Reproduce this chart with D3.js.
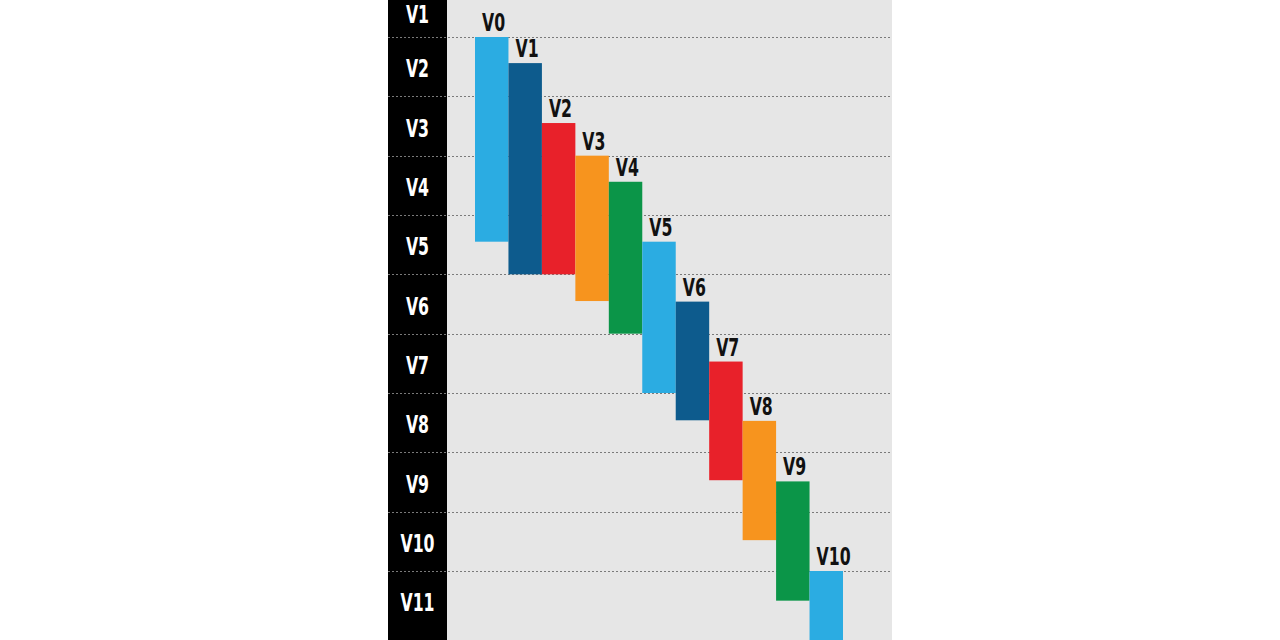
<!DOCTYPE html>
<html>
<head>
<meta charset="utf-8">
<script src="https://cdn.jsdelivr.net/npm/d3@7"></script>
<style>
html,body{margin:0;padding:0;background:#fff;}
svg{display:block;}
</style>
</head>
<body>
<svg id="chart" width="1280" height="640"></svg>
<script>
const versions = ["V0","V1","V2","V3","V4","V5","V6","V7","V8","V9","V10"];
const starts   = [1.0, 1.44, 2.45, 3.0, 3.44, 4.45, 5.46, 6.47, 7.47, 8.49, 10.0];
const ends     = [4.45, 5.0, 5.0, 5.45, 6.0, 7.0, 7.46, 8.47, 9.48, 10.5, 11.6];
const rowLabels = ["V1","V2","V3","V4","V5","V6","V7","V8","V9","V10","V11"];
const gridTicks = [1,2,3,4,5,6,7,8,9,10];
const palette = ["#2BACE2","#0D5B8D","#E8212A","#F7941E","#0B9548"];

const svg = d3.select("#chart");
const W = 1280, H = 640;
const bandX0 = 388, bandX1 = 447, plotX1 = 892;

const x = d3.scaleBand().domain(versions).range([475, 843]).padding(0);
const y = d3.scaleLinear().domain([1, 10]).range([37, 571]);
const color = d3.scaleOrdinal().domain(versions).range(palette);

// backgrounds
svg.append("rect").attr("x", bandX1).attr("y", 0).attr("width", plotX1 - bandX1).attr("height", H).attr("fill", "#E6E6E6");
svg.append("rect").attr("x", bandX0).attr("y", 0).attr("width", bandX1 - bandX0).attr("height", H).attr("fill", "#000");

// dashed grid lines
svg.append("g").selectAll("line").data(gridTicks).join("line")
  .attr("x1", bandX0).attr("x2", plotX1)
  .attr("y1", d => Math.round(y(d)) + 0.5).attr("y2", d => Math.round(y(d)) + 0.5)
  .attr("stroke", "#7a7a7a").attr("stroke-width", 1).attr("stroke-dasharray", "2,2");

// row labels
const font = "'Liberation Sans Narrow', 'DejaVu Sans Condensed', sans-serif";
svg.append("g").selectAll("text").data(rowLabels).join("text")
  .attr("transform", (d, i) => {
    const cy = Math.max(y(i + 0.5) + 2, 14);
    return `translate(${(bandX0 + bandX1) / 2},${cy}) scale(0.7,1)`;
  })
  .attr("text-anchor", "middle").attr("dominant-baseline", "central")
  .attr("fill", "#fff").attr("font-family", font).attr("font-weight", "bold")
  .attr("font-size", 25).text(d => d);

// bars
svg.append("g").selectAll("rect").data(versions).join("rect")
  .attr("x", d => x(d)).attr("width", x.bandwidth())
  .attr("y", (d, i) => y(starts[i]))
  .attr("height", (d, i) => y(ends[i]) - y(starts[i]))
  .attr("fill", d => color(d));

// bar labels
svg.append("g").selectAll("text").data(versions).join("text")
  .attr("transform", (d, i) => `translate(${x(d) + 7},${y(starts[i]) - 6}) scale(0.7,1)`)
  .attr("text-anchor", "start")
  .attr("fill", "#111").attr("font-family", font).attr("font-weight", "bold")
  .attr("font-size", 25).text(d => d);
</script>
</body>
</html>
